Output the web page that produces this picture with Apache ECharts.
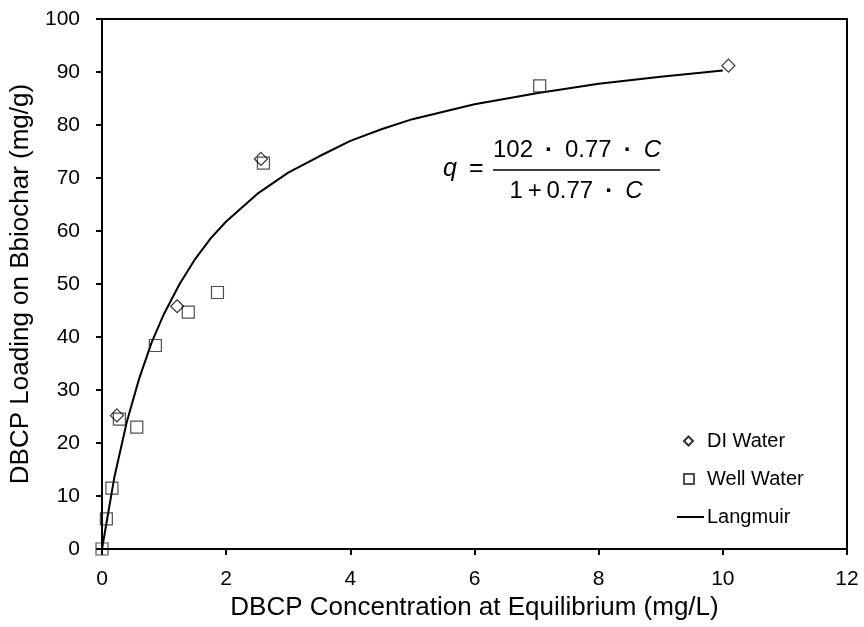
<!DOCTYPE html>
<html>
<head>
<meta charset="utf-8">
<script src="https://cdn.jsdelivr.net/npm/echarts@6/dist/echarts.min.js"></script>
<style>
  html, body { margin: 0; padding: 0; background: #fff; }
  #chart { width: 864px; height: 627px; }
</style>
</head>
<body>
<div id="chart"></div>
<script>
/* 数据 */
const diC = [0.24, 1.21, 2.56, 10.09];
const diQ = [25.2, 45.8, 73.6, 91.2];

const wellC = [0, 0.07, 0.16, 0.28, 0.56, 0.86, 1.39, 1.86, 2.60, 7.05];
const wellQ = [0, 5.7, 11.5, 24.5, 23.0, 38.4, 44.7, 48.4, 72.8, 87.4];

// Langmuir fit line
const fitC = [0, 0.2, 0.4, 0.6, 0.8, 1.0, 1.25, 1.5, 1.75, 2.0, 2.5, 3.0, 3.5, 4.0, 4.5, 5.0, 6.0, 7.0, 8.0, 9.0, 10.0];
const fitQ = [0, 13.6, 24.0, 32.2, 39.0, 44.4, 50.0, 54.7, 58.6, 61.8, 67.0, 71.0, 74.1, 77.0, 79.2, 81.1, 83.9, 86.0, 87.8, 89.1, 90.3];

const xTicks = { min: 0, max: 12, interval: 2 };
const yTicks = { min: 0, max: 100, interval: 10 };

const FONT = '"Liberation Sans", Arial, sans-serif';

function pairs(xs, ys) {
	return xs.map(function (x, i) { return [x, ys[i]]; });
}

const chart = echarts.init(document.getElementById('chart'));

const axisCommon = {
	type: 'value',
	nameLocation: 'middle',
	nameTextStyle: { fontSize: 26, color: '#000', fontFamily: FONT },
	axisLine: { show: true, lineStyle: { color: '#000', width: 2 } },
	axisTick: { show: true, inside: false, length: 6, lineStyle: { color: '#000', width: 2 } },
	splitLine: { show: false }
};

// equation text pieces (en spaces around the dots)
const SEP = '\u2002{d|·}\u2002';
const numText = '102' + SEP + '0.77' + SEP + '{i|C}';
const denText = '1\u2009+\u20090.77' + SEP + '{i|C}';
const eqRich = {
	i: { fontStyle: 'italic', fontSize: 24, fontFamily: FONT },
	d: { fontWeight: 'bold', fontSize: 24, fontFamily: FONT }
};

chart.setOption({
	animation: false,
	backgroundColor: '#fff',
	textStyle: { fontFamily: FONT },
	grid: {
		left: 102, right: 17, top: 19, bottom: 78,
		show: true, borderColor: '#000', borderWidth: 2, backgroundColor: 'transparent'
	},
	xAxis: Object.assign({}, axisCommon, {
		min: xTicks.min, max: xTicks.max, interval: xTicks.interval,
		name: 'DBCP Concentration at Equilibrium (mg/L)',
		nameGap: 41,
		axisLabel: { fontSize: 21, color: '#000', margin: 20, fontFamily: FONT }
	}),
	yAxis: Object.assign({}, axisCommon, {
		min: yTicks.min, max: yTicks.max, interval: yTicks.interval,
		name: 'DBCP Loading on Bbiochar (mg/g)',
		nameGap: 66,
		axisLabel: { fontSize: 21, color: '#000', margin: 22, fontFamily: FONT }
	}),
	// one legend per entry so each icon keeps its own size
	legend: [
		{
			data: ['DI Water'], left: 683, top: 431, padding: 0,
			itemWidth: 9, itemHeight: 9,
			textStyle: { fontSize: 20, color: '#000', fontFamily: FONT, lineHeight: 20, padding: [0, 0, 0, 9] }
		},
		{
			data: ['Well Water'], left: 683, top: 469, padding: 0,
			itemWidth: 10, itemHeight: 10,
			textStyle: { fontSize: 20, color: '#000', fontFamily: FONT, lineHeight: 20, padding: [0, 0, 0, 8] }
		},
		{
			data: ['Langmuir'], left: 676, top: 507, padding: 0,
			itemWidth: 27, itemHeight: 10,
			itemStyle: { color: 'transparent', borderColor: 'transparent', borderWidth: 0 },
			textStyle: { fontSize: 20, color: '#000', fontFamily: FONT, lineHeight: 20, padding: [0, 0, 0, -2] }
		}
	],
	series: [
		{
			name: 'Langmuir',
			type: 'line',
			data: pairs(fitC, fitQ),
			showSymbol: false,
			symbol: 'none',
			smooth: false,
			lineStyle: { color: '#000', width: 2 },
			itemStyle: { color: '#000' },
			z: 2
		},
		{
			name: 'Well Water',
			type: 'scatter',
			data: pairs(wellC, wellQ),
			symbol: 'rect',
			symbolSize: 12,
			itemStyle: { color: 'transparent', borderColor: '#222', borderWidth: 1.2 },
			z: 3
		},
		{
			name: 'DI Water',
			type: 'scatter',
			data: pairs(diC, diQ),
			symbol: 'diamond',
			symbolSize: 13,
			itemStyle: { color: 'transparent', borderColor: '#000', borderWidth: 1.2 },
			z: 4
		}
	],
	// Langmuir equation
	graphic: [
		{ type: 'text', left: 443, top: 157, style: { text: 'q', font: 'italic 25px ' + FONT, fill: '#000' } },
		{ type: 'text', left: 469, top: 157, style: { text: '=', font: '25px ' + FONT, fill: '#000' } },
		{
			type: 'text', x: 577, y: 150,
			style: { text: numText, font: '24px ' + FONT, fill: '#000', align: 'center', verticalAlign: 'middle', rich: eqRich }
		},
		{ type: 'line', shape: { x1: 493, y1: 170, x2: 660, y2: 170 }, style: { stroke: '#000', lineWidth: 1.5 } },
		{
			type: 'text', x: 576, y: 191,
			style: { text: denText, font: '24px ' + FONT, fill: '#000', align: 'center', verticalAlign: 'middle', rich: eqRich }
		}
	]
});
</script>
</body>
</html>
